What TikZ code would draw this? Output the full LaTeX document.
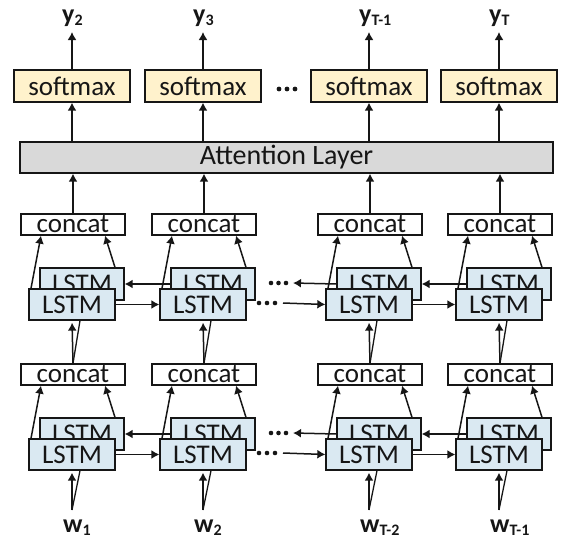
\documentclass[tikz,border=0pt]{standalone}
\usepackage{fontspec}
\setmainfont{Carlito}
\usetikzlibrary{arrows.meta}
\definecolor{softfill}{HTML}{FFF2CC}
\definecolor{lstmfill}{HTML}{DAE9F2}
\definecolor{attfill}{HTML}{D9D9D9}
\definecolor{ink}{HTML}{161616}
\tikzset{
  x=1pt, y=-1pt,
  boxbase/.style={draw=ink, line width=1.3pt, inner sep=0pt, text=ink,
    font=\fontsize{27}{30}\selectfont},
  softbox/.style={boxbase, fill=softfill, minimum width=116pt, minimum height=32pt},
  attbox/.style={boxbase, fill=attfill, minimum width=533pt, minimum height=31pt,
    font=\fontsize{28}{30}\selectfont},
  catbox/.style={boxbase, fill=white, minimum width=104pt, minimum height=21pt},
  lstmback/.style={boxbase, fill=lstmfill, minimum width=84pt, minimum height=32pt},
  lstmfront/.style={boxbase, fill=lstmfill, minimum width=86pt, minimum height=31pt},
  arr/.style={draw=ink, line width=1.5pt, -{Latex[length=8pt,width=9pt]}},
  wire/.style={draw=ink, line width=1.3pt},
  lbl/.style={anchor=west, inner sep=0pt, text=ink,
    font=\fontsize{26}{28}\selectfont\bfseries},
  dot/.style={fill=ink}
}
\newcommand{\sub}[1]{\raisebox{-3pt}{\fontsize{16}{16}\selectfont\bfseries #1}}
\begin{document}
\begin{tikzpicture}
\path[use as bounding box] (0,0) rectangle (563,539);

% attention layer spanning all columns
\node[attbox] (att) at (286.5,157.5) {Attention Layer};

\foreach \i/\c/\ys/\ws in {1/29/2/1, 2/160/3/2, 3/326/{T-1}/{T-2}, 4/456/T/{T-1}} {
  % output side
  \node[softbox] (sm\i) at (\c+43,86) {softmax};
  \node[lbl] (y\i) at (\c+33,18) {y\sub{\ys}};
  \coordinate (yt\i) at (\c+43,32);
  \draw[arr] (sm\i.north) -- (yt\i);
  \draw[arr] (att.north -| sm\i.south) -- (sm\i.south);

  % two bidirectional layers
  \foreach \L/\dy in {u/0, l/150} {
    \node[catbox] (cat\L\i) at (\c+44,224.5+\dy) {concat};
    \node[lstmback] (b\L\i) at (\c+53,284+\dy) {LSTM};
    \node[lstmfront] (f\L\i) at (\c+43,304.5+\dy) {LSTM};
    \draw[arr] ([xshift=-41pt]f\L\i.north) -- ([xshift=-32pt]cat\L\i.south);
    \draw[arr] ([xshift=33pt]b\L\i.north) -- ([xshift=32pt]cat\L\i.south);
  }
  \draw[arr] (catu\i.north) -- (att.south -| catu\i.north);

  % lower concat feeds the upper layer
  \draw[arr, shorten >=2pt] (catl\i.north) -- (fu\i.south);
  \draw[wire] (catl\i.north) -- ([xshift=8pt]fu\i.south);

  % word inputs
  \node[lbl] (w\i) at (\c+34,528) {w\sub{\ws}};
  \coordinate (ws\i) at (\c+43,510);
  \draw[arr, shorten >=2pt] (ws\i) -- (fl\i.south);
  \draw[wire] (ws\i) -- ([xshift=8pt]fl\i.south);
}

% recurrent connections between neighbouring columns
\foreach \L/\dy in {u/0, l/150} {
  \draw[arr] (f\L1.east) -- (f\L2.west);
  \draw[arr] (f\L3.east) -- (f\L4.west);
  \draw[arr] (b\L2.west) -- (b\L1.east);
  \draw[arr] (b\L4.west) -- (b\L3.east);
  \coordinate (fg\L) at (283,303+\dy);
  \coordinate (bg\L) at (293,283+\dy);
  \draw[arr] (fg\L) -- (f\L3.west);
  \draw[arr] (b\L3.west) -- (bg\L);
  \foreach \x in {259,267,275} \fill[dot] (\x,303+\dy) circle (2.3pt);
  \foreach \x in {271,278.5,286} \fill[dot] (\x,283+\dy) circle (2.3pt);
}

% gap between the output columns
\foreach \x in {279,287,295} \fill[dot] (\x,89) circle (2.4pt);
\end{tikzpicture}
\end{document}
